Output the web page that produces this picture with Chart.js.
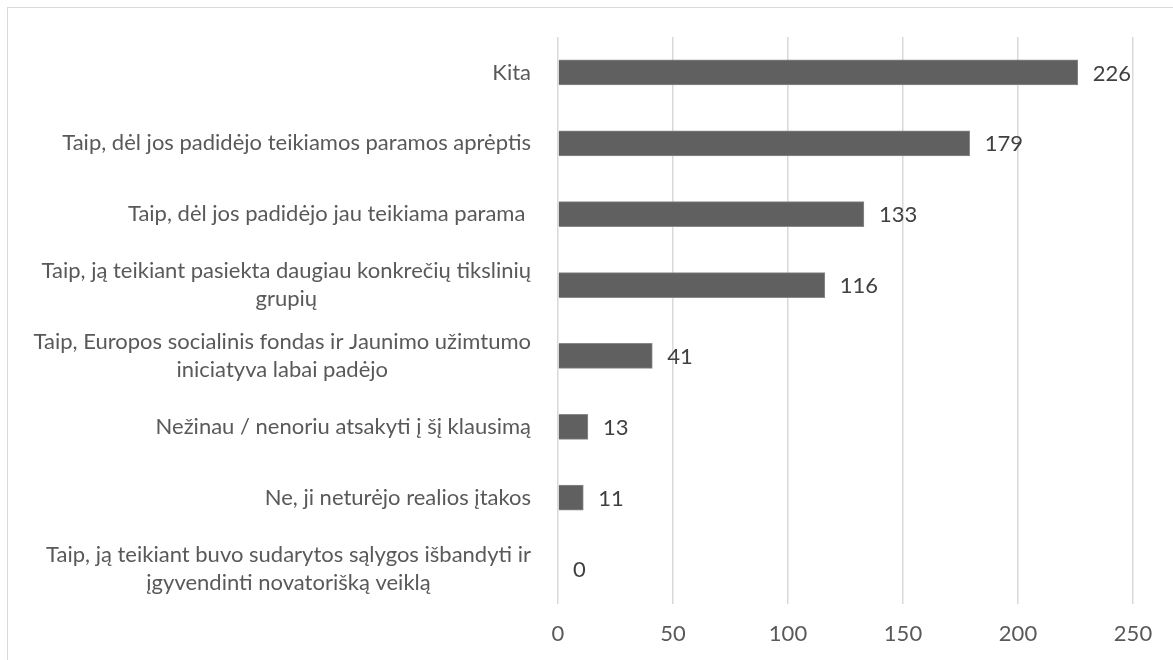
<!DOCTYPE html>
<html>
<head>
<meta charset="utf-8">
<script src="https://cdn.jsdelivr.net/npm/chart.js@4/dist/chart.umd.min.js"></script>
<style>
  html, body { margin: 0; padding: 0; background: #fff; overflow: hidden; }
  #frame { position: absolute; left: 7px; top: 7px; width: 1200px; height: 700px; border: 1px solid #d9d9d9; }
  #wrap { position: absolute; left: 0; top: 0; width: 1173px; height: 660px; }
</style>
</head>
<body>
<div id="frame"></div>
<div id="wrap"><canvas id="c" width="1173" height="660"></canvas></div>
<script>
const categories = [
  "Kita",
  "Taip, dėl jos padidėjo teikiamos paramos aprėptis",
  "Taip, dėl jos padidėjo jau teikiama parama ",
  ["Taip, ją teikiant pasiekta daugiau konkrečių tikslinių", "grupių"],
  ["Taip, Europos socialinis fondas ir Jaunimo užimtumo", "iniciatyva labai padėjo"],
  "Nežinau / nenoriu atsakyti į šį klausimą",
  "Ne, ji neturėjo realios įtakos",
  ["Taip, ją teikiant buvo sudarytos sąlygos išbandyti ir", "įgyvendinti novatorišką veiklą"]
];
const values = [226, 179, 133, 116, 41, 13, 11, 0];
const xTicks = [0, 50, 100, 150, 200, 250];

const FONT = "Lato, 'Open Sans', sans-serif";
const FSIZE = 22;

const valueLabels = {
  id: 'valueLabels',
  afterDatasetsDraw(chart) {
    const ctx = chart.ctx;
    const meta = chart.getDatasetMeta(0);
    ctx.save();
    ctx.font = FSIZE + "px " + FONT;
    ctx.fillStyle = "#404040";
    ctx.textAlign = "left";
    ctx.textBaseline = "middle";
    meta.data.forEach((bar, i) => {
      ctx.fillText(String(values[i]), bar.x + 15, bar.y + 1);
    });
    ctx.restore();
  }
};

// Centre the lines of wrapped category labels within their block (as in the original)
const centerWrapped = {
  id: 'centerWrapped',
  beforeDraw(chart) {
    const scale = chart.scales.y;
    const items = scale.getLabelItems(chart.chartArea);
    const ctx = chart.ctx;
    items.forEach(item => {
      if (Array.isArray(item.label) && item.options.textAlign === 'right') {
        ctx.save();
        ctx.font = item.font.string;
        const w = Math.max(...item.label.map(l => ctx.measureText(l).width));
        ctx.restore();
        item.options.textAlign = 'center';
        item.options.translation = [item.options.translation[0] - w / 2, item.options.translation[1]];
      }
    });
  }
};

new Chart(document.getElementById('c'), {
  type: 'bar',
  data: {
    labels: categories,
    datasets: [{
      data: values,
      backgroundColor: '#606060',
      borderColor: '#888888',
      borderWidth: 1,
      barThickness: 25
    }]
  },
  options: {
    indexAxis: 'y',
    responsive: false,
    animation: false,
    layout: { padding: { left: 0, right: 40, top: 37, bottom: 0 } },
    plugins: { legend: { display: false }, tooltip: { enabled: false } },
    scales: {
      x: {
        min: 0, max: 250,
        afterBuildTicks(scale) { scale.ticks = xTicks.map(v => ({ value: v })); },
        grid: { color: '#d9d9d9', lineWidth: 1.5, drawTicks: false },
        border: { display: false },
        ticks: { color: '#595959', font: { family: FONT, size: FSIZE }, padding: 17 },
        afterFit(scale) { scale.height = 56; }
      },
      y: {
        grid: { display: false },
        border: { display: false },
        ticks: { color: '#595959', font: { family: FONT, size: FSIZE, lineHeight: 1.27 }, padding: 19, autoSkip: false },
        afterFit(scale) { scale.width = 558; scale.paddingTop = 0; scale.paddingBottom = 0; }
      }
    }
  },
  plugins: [centerWrapped, valueLabels]
});
</script>
</body>
</html>
